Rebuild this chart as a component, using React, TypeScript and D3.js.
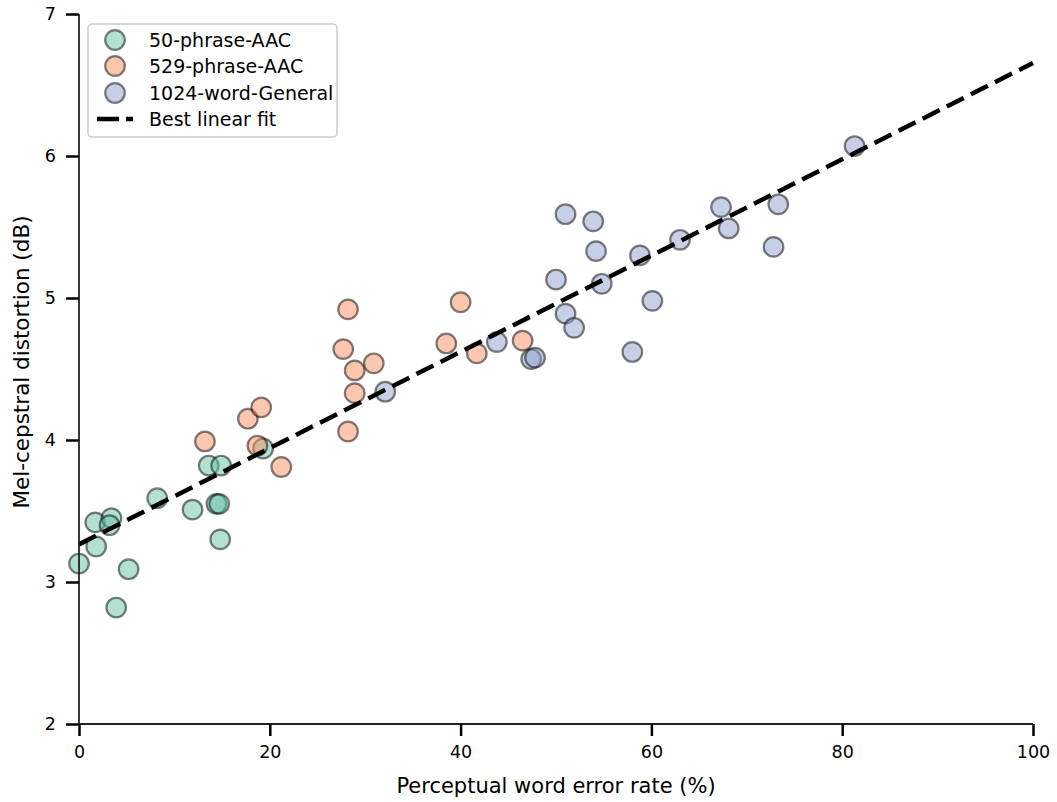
import { useEffect, useRef } from 'react';
import * as d3 from 'd3';

// 50-phrase-AAC
const aacSmallX = [0, 1.7, 1.8, 3.4, 3.2, 3.9, 5.2, 8.2, 11.9, 13.6, 14.9, 14.4, 14.7, 14.8, 19.3];
const aacSmallY = [3.13, 3.42, 3.25, 3.45, 3.40, 2.82, 3.09, 3.59, 3.51, 3.82, 3.82, 3.55, 3.55, 3.30, 3.94];

// 529-phrase-AAC
const aacLargeX = [13.2, 17.7, 19.1, 18.7, 21.2, 28.2, 27.7, 28.9, 30.9, 28.9, 28.2, 40.0, 38.5, 41.7, 46.5];
const aacLargeY = [3.99, 4.15, 4.23, 3.96, 3.81, 4.92, 4.64, 4.49, 4.54, 4.33, 4.06, 4.97, 4.68, 4.61, 4.70];

// 1024-word-General
const generalX = [32.1, 43.8, 47.4, 47.8, 50.0, 51.0, 51.0, 51.9, 53.9, 54.2, 54.8, 58.0, 58.8, 60.1, 63.0, 67.3, 68.1, 72.8, 73.3, 81.3];
const generalY = [4.34, 4.69, 4.57, 4.58, 5.13, 5.59, 4.89, 4.79, 5.54, 5.33, 5.10, 4.62, 5.30, 4.98, 5.41, 5.64, 5.49, 5.36, 5.66, 6.07];

const seriesNames = ['50-phrase-AAC', '529-phrase-AAC', '1024-word-General'];
const seriesColors = ['#66c2a5', '#fc8d62', '#8da0cb'];

// best linear fit: y = intercept + slope * x
const fitIntercept = 3.265;
const fitSlope = 0.0339;

const xTicks = [0, 20, 40, 60, 80, 100];
const yTicks = [2, 3, 4, 5, 6, 7];

const W = 1057;
const H = 802;

const App = () => {
  const svgRef = useRef<SVGSVGElement>(null);

  useEffect(() => {
    const svg = d3.select(svgRef.current);
    svg.selectAll('*').remove();

    const margin = { top: 14, right: 24, bottom: 78, left: 79 };
    const x = d3.scaleLinear().domain([0, 100]).range([margin.left, W - margin.right]);
    const y = d3.scaleLinear().domain([2, 7]).range([H - margin.bottom, margin.top]);

    const font = 'DejaVu Sans, sans-serif';
    const g = svg.append('g');

    // points
    const groups = [
      { xs: aacSmallX, ys: aacSmallY },
      { xs: aacLargeX, ys: aacLargeY },
      { xs: generalX, ys: generalY },
    ];
    groups.forEach((s, i) => {
      g.selectAll(`.pt${i}`)
        .data(s.xs.map((v, j) => [v, s.ys[j]]))
        .enter()
        .append('circle')
        .attr('cx', d => x(d[0]))
        .attr('cy', d => y(d[1]))
        .attr('r', 9.8)
        .attr('fill', seriesColors[i])
        .attr('fill-opacity', 0.5)
        .attr('stroke', '#000')
        .attr('stroke-opacity', 0.5)
        .attr('stroke-width', 2.2);
    });

    // fit line
    const line = d3.line<number>().x(d => x(d)).y(d => y(fitIntercept + fitSlope * d));
    g.append('path')
      .datum([0, 100])
      .attr('d', line)
      .attr('fill', 'none')
      .attr('stroke', '#000')
      .attr('stroke-width', 4.5)
      .attr('stroke-dasharray', '19,8');

    // axes
    const xAxis = g.append('g')
      .attr('transform', `translate(0,${y(2)})`)
      .call(d3.axisBottom(x).tickValues(xTicks).tickFormat(d3.format('d')).tickSize(12).tickPadding(10));
    const yAxis = g.append('g')
      .attr('transform', `translate(${x(0)},0)`)
      .call(d3.axisLeft(y).tickValues(yTicks).tickFormat(d3.format('d')).tickSize(13).tickPadding(10));
    [xAxis, yAxis].forEach(a => {
      a.selectAll('.domain').attr('stroke', '#222').attr('stroke-width', 1.8);
      a.selectAll('.tick line').attr('stroke', '#000').attr('stroke-width', 2.5);
      a.selectAll('text').style('font-size', '17.5px').style('font-family', font).attr('fill', '#000');
    });
    xAxis.select('.domain').attr('d', `M${x(0)},0H${x(100)}`);
    yAxis.select('.domain').attr('d', `M0,${y(2)}V${y(7)}`);

    // axis labels
    g.append('text')
      .attr('x', (x(0) + x(100)) / 2)
      .attr('y', 793)
      .attr('text-anchor', 'middle')
      .style('font-family', font)
      .style('font-size', '21px')
      .text('Perceptual word error rate (%)');
    g.append('text')
      .attr('transform', `translate(29,362) rotate(-90)`)
      .attr('text-anchor', 'middle')
      .style('font-family', font)
      .style('font-size', '21.5px')
      .text('Mel-cepstral distortion (dB)');

    // legend
    const lg = g.append('g').attr('transform', 'translate(88,24)');
    lg.append('rect')
      .attr('width', 249)
      .attr('height', 113)
      .attr('rx', 4)
      .attr('fill', '#fff')
      .attr('fill-opacity', 0.8)
      .attr('stroke', '#ccc')
      .attr('stroke-width', 1.5);
    const rowY = [16, 42, 69, 95];
    seriesNames.forEach((name, i) => {
      lg.append('circle')
        .attr('cx', 27)
        .attr('cy', rowY[i])
        .attr('r', 9.8)
        .attr('fill', seriesColors[i])
        .attr('fill-opacity', 0.5)
        .attr('stroke', '#000')
        .attr('stroke-opacity', 0.5)
        .attr('stroke-width', 2.2);
      lg.append('text')
        .attr('x', 61)
        .attr('y', rowY[i])
        .attr('dy', '0.36em')
        .style('font-family', font)
        .style('font-size', '19px')
        .text(name);
    });
    lg.append('line')
      .attr('x1', 9)
      .attr('x2', 45)
      .attr('y1', rowY[3])
      .attr('y2', rowY[3])
      .attr('stroke', '#000')
      .attr('stroke-width', 4.5)
      .attr('stroke-dasharray', '22,7');
    lg.append('text')
      .attr('x', 61)
      .attr('y', rowY[3])
      .attr('dy', '0.36em')
      .style('font-family', font)
      .style('font-size', '19px')
      .text('Best linear fit');
  }, []);

  return (
    <svg
      ref={svgRef}
      width={W}
      height={H}
      style={{ position: 'absolute', left: 0, top: 0, background: '#fff' }}
    />
  );
};

export default App;
